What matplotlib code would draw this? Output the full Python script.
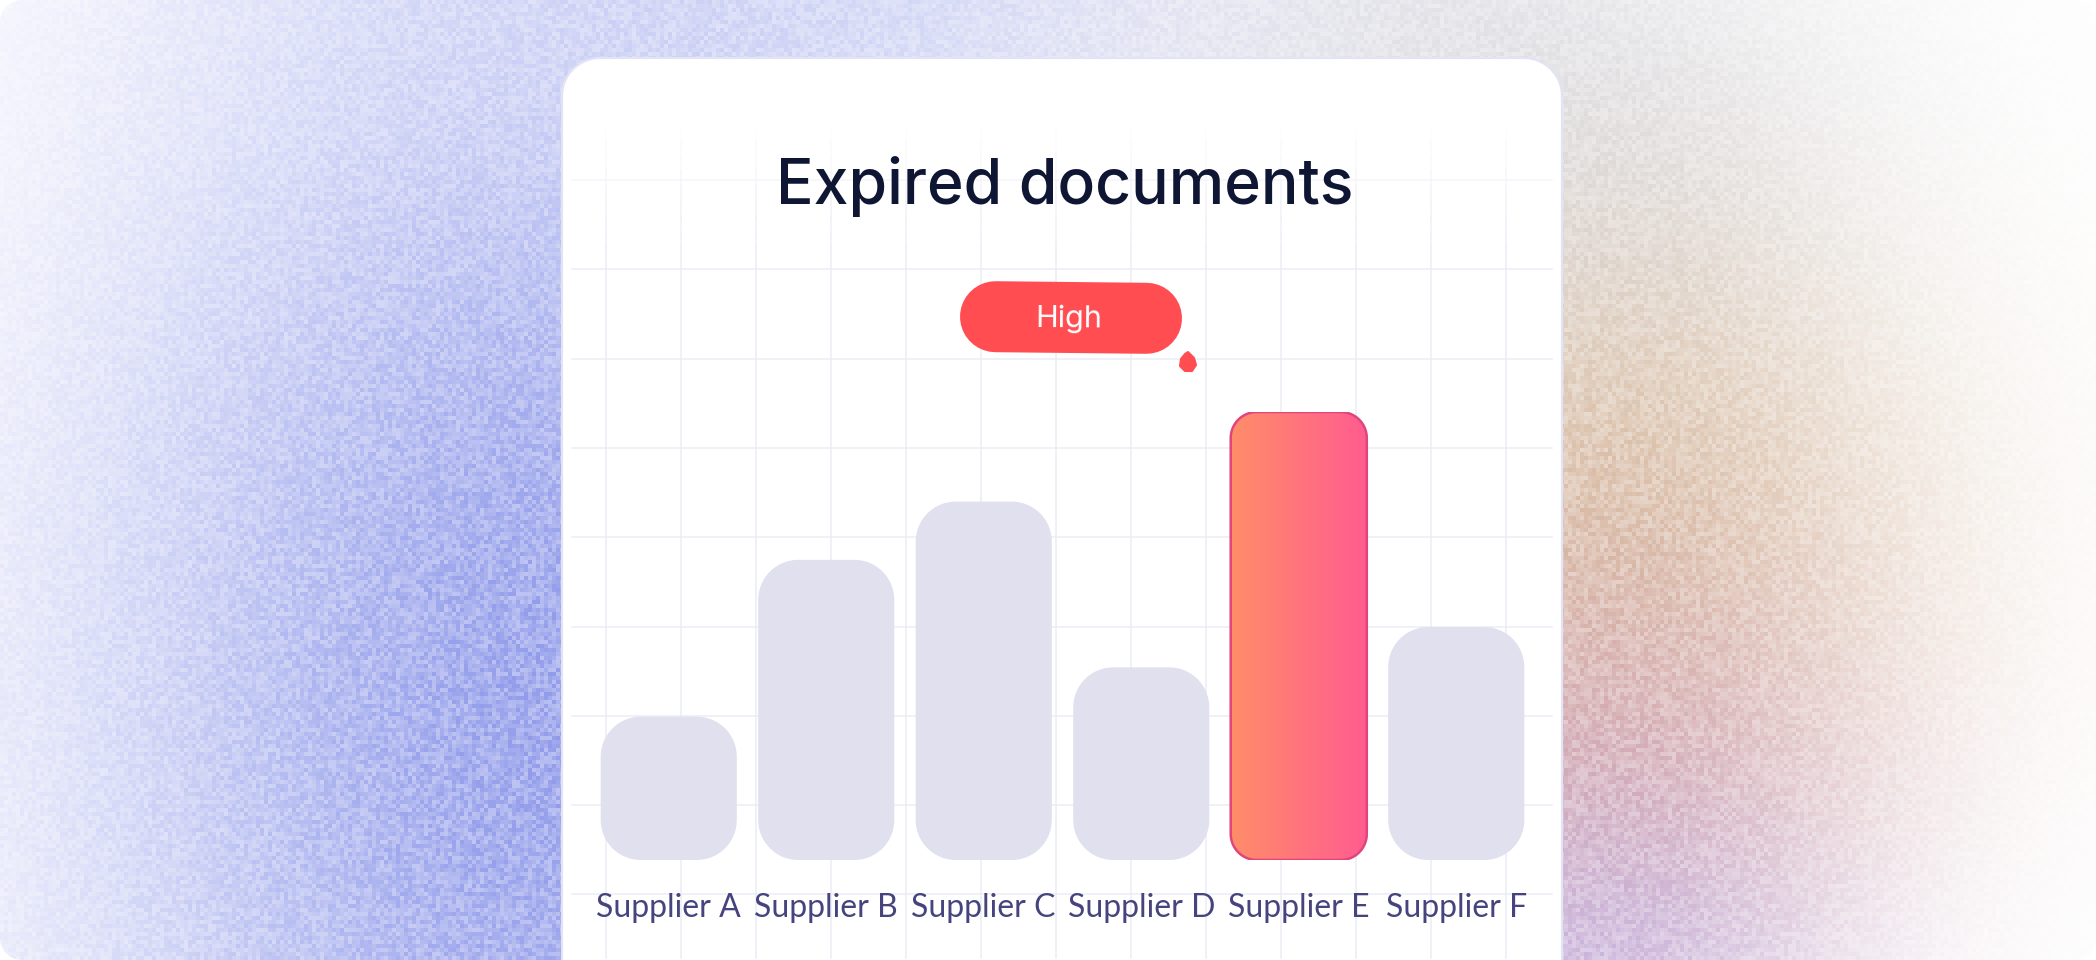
import numpy as np
import matplotlib
matplotlib.use("Agg")
import matplotlib.pyplot as plt
from matplotlib.patches import FancyBboxPatch, Polygon
from matplotlib.colors import LinearSegmentedColormap

# chart data
suppliers = ["Supplier A", "Supplier B", "Supplier C", "Supplier D", "Supplier E", "Supplier F"]
expired = [16, 33.5, 40, 21.5, 50, 26]
highlight = "Supplier E"
badge_text = "High"
title = "Expired documents"

W, H = 2096, 960


def rounded_rect(x0, y0, w, h, rx, ry, n=16):
    # rectangle with circular-looking corners (rx, ry in data units)
    t = np.linspace(0, np.pi / 2, n)
    corners = [
        (x0 + w - rx, y0 + h - ry, 0),
        (x0 + rx, y0 + h - ry, np.pi / 2),
        (x0 + rx, y0 + ry, np.pi),
        (x0 + w - rx, y0 + ry, 1.5 * np.pi),
    ]
    pts = []
    for cx, cy, a0 in corners:
        pts += list(zip(cx + rx * np.cos(a0 + t), cy + ry * np.sin(a0 + t)))
    return np.array(pts)


fig = plt.figure(figsize=(W / 100, H / 100), dpi=100)
fig.patch.set_facecolor("white")

# ---- background layer, in pixel coordinates (y down)
bg = fig.add_axes([0, 0, 1, 1])

# soft coloured glows: (cx, cy, sx, sy, rgb, strength)
glows = [
    (560, 720, 330, 520, (150, 160, 235), 0.85),
    (800, 0, 350, 90, (205, 210, 245), 0.55),
    (1450, 30, 250, 120, (218, 218, 226), 0.45),
    (1585, 220, 190, 150, (212, 212, 215), 0.5),
    (1600, 520, 220, 200, (215, 185, 155), 0.7),
    (1590, 770, 190, 150, (210, 160, 172), 0.6),
    (1580, 960, 170, 120, (195, 175, 225), 0.6),
]
yy, xx = np.mgrid[0:H:4, 0:W:4].astype(float)
img = np.ones(yy.shape + (3,))
for cx, cy, sx, sy, col, s in glows:
    w = s * np.exp(-0.5 * (((xx - cx) / sx) ** 2 + ((yy - cy) / sy) ** 2))
    img = img * (1 - w[..., None]) + (np.array(col) / 255.0) * w[..., None]
# film grain texture
v = np.sin(xx * 12.9898 + yy * 78.233) * 43758.5453
grain = v - np.floor(v)
img = 1 - (1 - img) * (0.75 + 0.5 * grain[..., None])
img = np.clip(img, 0, 1)

im = bg.imshow(img, extent=(0, W, H, 0), interpolation="nearest", aspect="auto", zorder=0)
frame = Polygon(rounded_rect(0, 0, W, H, 22, 22), closed=True,
                facecolor="none", edgecolor="none")
bg.add_patch(frame)
im.set_clip_path(frame)

# white card
card = Polygon(rounded_rect(562, 58, 1000, 960, 38, 38), closed=True,
               facecolor="white", edgecolor="#e2e4f6", lw=1.6, zorder=2)
bg.add_patch(card)

# faint decorative grid
grid_col = "#ececf5"
for gy in np.arange(180, 900, 89.3):
    bg.plot([572, 1552], [gy, gy], color=grid_col, lw=1.1, zorder=3,
            alpha=0.5 if gy < 200 else 1)
for gx in np.arange(606, 1520, 75):
    for k in range(8):
        y0 = 127 + k * 15
        bg.plot([gx, gx], [y0, y0 + 15], color=grid_col, lw=1.1, zorder=3, alpha=(k + 1) / 9)
    bg.plot([gx, gx], [247, 958], color=grid_col, lw=1.1, zorder=3)

bg.set_xlim(0, W)
bg.set_ylim(H, 0)
bg.axis("off")

# title
bg.text(1065, 204, title, ha="center", va="baseline", fontsize=45, fontweight="medium",
        color="#0e1633", family="Inter", zorder=5)

# "High" pill badge (thick round-capped stroke) with a small marker dot
bx, by, bw, bh = 960, 282, 222, 71
half = bh / 2
bg.plot([bx + half, bx + bw - half], [by + half - 0.8, by + half + 0.8],
        color="#ff4d52", lw=bh * 0.72, solid_capstyle="round", zorder=6)
bg.text(1069, 327, badge_text, ha="center", va="baseline", fontsize=22, color="white",
        family="Inter", rotation=-0.4, rotation_mode="anchor", zorder=7)
drop = np.array([(1188, 352), (1194, 358), (1196, 365), (1192, 371), (1185, 371),
                 (1180, 366), (1181, 359), (1185, 354)])
bg.add_patch(Polygon(drop, closed=True, facecolor="#ff4d52", edgecolor="#ff4d52",
                     lw=1.5, joinstyle="round", zorder=6))

# ---- bar chart axes: bottom of bars at y=860 px, tallest bar top at 412 px
ax_l, ax_r, ax_b, ax_t = 590, 1535, 860, 412
ax = fig.add_axes([ax_l / W, (H - ax_b) / H, (ax_r - ax_l) / W, (ax_b - ax_t) / H])
ax.patch.set_alpha(0)
ax.set_zorder(4)
for sp in ax.spines.values():
    sp.set_visible(False)

xpos = np.arange(len(suppliers))
xlim = (-0.5, len(suppliers) - 0.5)
ylim = (0, max(expired))
bars = ax.bar(xpos, expired, width=0.864, color="none", edgecolor="none")

x_per_px = (xlim[1] - xlim[0]) / (ax_r - ax_l)
y_per_px = (ylim[1] - ylim[0]) / (ax_b - ax_t)

cmap = LinearSegmentedColormap.from_list("hot", ["#ff8d69", "#ff5c90"])
for name, rect in zip(suppliers, bars):
    x0, bwid, bht = rect.get_x(), rect.get_width(), rect.get_height()
    rect.set_visible(False)
    if name == highlight:
        r = 26
        p = Polygon(rounded_rect(x0, 0, bwid, bht, r * x_per_px, r * y_per_px), closed=True,
                    facecolor="none", edgecolor="#e2457b", lw=1.8, zorder=3)
        ax.add_patch(p)
        g = ax.imshow(np.linspace(0, 1, 256)[None, :], extent=(x0, x0 + bwid, 0, bht),
                      aspect="auto", cmap=cmap, zorder=2)
        g.set_clip_path(p)
    else:
        r = 40
        p = Polygon(rounded_rect(x0, 0, bwid, bht, r * x_per_px, r * y_per_px), closed=True,
                    facecolor="#e0e0ee", edgecolor="none", zorder=2)
        ax.add_patch(p)

ax.set_xlim(*xlim)
ax.set_ylim(*ylim)
ax.set_yticks([])
ax.set_xticks(xpos, suppliers)
ax.tick_params(axis="x", length=0, pad=24, labelsize=23, labelcolor="#46447e")
for lab in ax.get_xticklabels():
    lab.set_family("Lato")

fig.savefig("out.png", dpi=100, facecolor="white")
